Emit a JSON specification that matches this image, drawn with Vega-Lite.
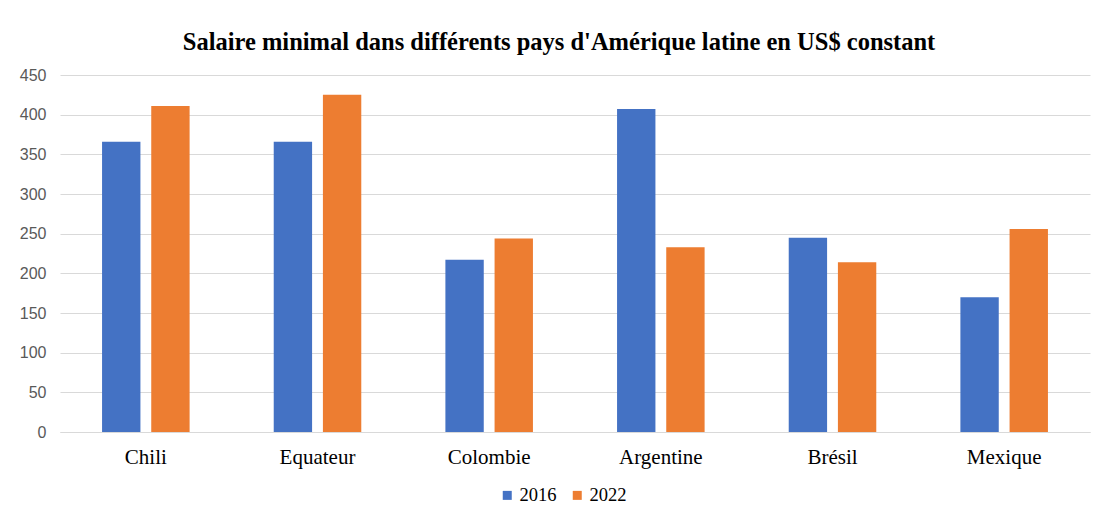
{
  "$schema": "https://vega.github.io/schema/vega-lite/v6.json",
  "autosize": "none",
  "width": 1030,
  "height": 357,
  "padding": {"left": 60, "top": 75, "right": 7, "bottom": 83},
  "background": "white",
  "title": {
    "text": "Salaire minimal dans différents pays d'Amérique latine en US$ constant",
    "font": "Liberation Serif",
    "fontSize": 24.5,
    "fontWeight": "bold",
    "color": "#000000",
    "anchor": "middle",
    "frame": "group",
    "offset": 12,
    "dx": -16
  },
  "data": {
    "values": [
      {"pays": "Chili", "annee": "2016", "valeur": 366},
      {"pays": "Chili", "annee": "2022", "valeur": 411},
      {"pays": "Equateur", "annee": "2016", "valeur": 366},
      {"pays": "Equateur", "annee": "2022", "valeur": 425},
      {"pays": "Colombie", "annee": "2016", "valeur": 217},
      {"pays": "Colombie", "annee": "2022", "valeur": 244},
      {"pays": "Argentine", "annee": "2016", "valeur": 407},
      {"pays": "Argentine", "annee": "2022", "valeur": 233},
      {"pays": "Brésil", "annee": "2016", "valeur": 245},
      {"pays": "Brésil", "annee": "2022", "valeur": 214},
      {"pays": "Mexique", "annee": "2016", "valeur": 170},
      {"pays": "Mexique", "annee": "2022", "valeur": 256}
    ]
  },
  "mark": {"type": "bar"},
  "encoding": {
    "x": {
      "field": "pays",
      "type": "nominal",
      "sort": ["Chili", "Equateur", "Colombie", "Argentine", "Brésil", "Mexique"],
      "scale": {"paddingInner": 0.49, "paddingOuter": 0.245},
      "axis": {
        "title": null,
        "labelAngle": 0,
        "labelFont": "Liberation Serif",
        "labelFontSize": 21,
        "labelColor": "#000000",
        "labelPadding": 14,
        "ticks": false,
        "domainColor": "#d9d9d9",
        "grid": false
      }
    },
    "xOffset": {
      "field": "annee",
      "type": "nominal",
      "scale": {"paddingInner": 0.22}
    },
    "y": {
      "field": "valeur",
      "type": "quantitative",
      "scale": {"domain": [0, 450]},
      "axis": {
        "title": null,
        "values": [0, 50, 100, 150, 200, 250, 300, 350, 400, 450],
        "labelFont": "Liberation Sans",
        "labelFontSize": 16,
        "labelColor": "#595959",
        "labelPadding": 14,
        "ticks": false,
        "domain": false,
        "gridColor": "#d9d9d9",
        "gridWidth": 1
      }
    },
    "color": {
      "field": "annee",
      "type": "nominal",
      "scale": {"domain": ["2016", "2022"], "range": ["#4472C4", "#ED7D31"]},
      "legend": {
        "title": null,
        "orient": "none",
        "direction": "horizontal",
        "legendX": 438,
        "legendY": 411,
        "symbolType": "square",
        "symbolSize": 81,
        "symbolStrokeWidth": 0,
        "labelFont": "Liberation Serif",
        "labelFontSize": 18.5,
        "labelColor": "#000000",
        "labelOffset": 3,
        "columnPadding": 11
      }
    }
  },
  "config": {
    "view": {"stroke": null}
  }
}
